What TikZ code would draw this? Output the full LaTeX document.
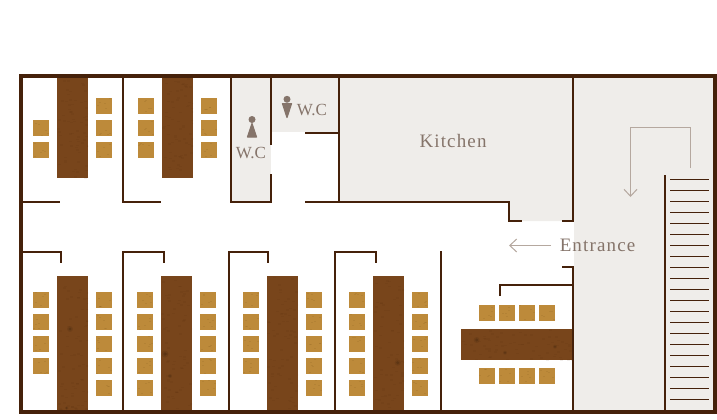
\documentclass[tikz,border=0pt]{standalone}
\usepackage{fontspec}
\setmainfont{Liberation Serif}
\newfontfamily\labelfont[LetterSpace=6]{Liberation Serif}
\usetikzlibrary{arrows.meta}
\definecolor{wallc}{HTML}{45210A}
\definecolor{floorc}{HTML}{EFEDEA}
\definecolor{woodc}{HTML}{78451B}
\definecolor{woodd}{HTML}{4A2508}
\definecolor{chairc}{HTML}{BD8A3A}
\definecolor{chaird}{HTML}{8F6222}
\definecolor{inkc}{HTML}{85746A}
\definecolor{arrowc}{HTML}{B5A89F}
\tikzset{
  wall/.style={draw=wallc,line width=2.3pt,line cap=butt,miter limit=10},
  outerwall/.style={draw=wallc,line width=4pt},
  tread/.style={draw=wallc,line width=1pt},
  floorarea/.style={fill=floorc,draw=none},
  walkarrow/.style={draw=arrowc,line width=1pt,-{Straight Barb[length=7pt,width=13pt,line width=1pt]}},
  roomlabel/.style={text=inkc,draw=none,inner sep=0pt,anchor=base,font=\labelfont\fontsize{19}{19}\selectfont},
  wclabel/.style={text=inkc,inner sep=0pt,anchor=base,font=\fontsize{17}{17}\selectfont},
  wcicon/.style={fill=inkc,draw=inkc,line width=1.2pt,line join=round},
}
\newcommand{\woodtable}[4]{%
  \fill[woodc] (#1,#2) rectangle (#3,#4);
  \begin{scope}
    \clip (#1,#2) rectangle (#3,#4);
    \pgfmathsetmacro{\tw}{#3-#1}\pgfmathsetmacro{\th}{#4-#2}
    \foreach \i in {1,...,70}{
      \pgfmathsetmacro{\px}{#1+rnd*\tw}\pgfmathsetmacro{\py}{#2+rnd*\th}
      \fill[woodd,opacity=.08] (\px,\py) rectangle ++(3,1.5);
    }
  \end{scope}}
\newcommand{\chairsq}[2]{%
  \fill[chairc] (#1,#2) rectangle ++(16,16);
  \foreach \i in {1,...,5}{
    \pgfmathsetmacro{\px}{#1+rnd*14}\pgfmathsetmacro{\py}{#2+rnd*15}
    \fill[chaird,opacity=.2] (\px,\py) rectangle ++(2,.8);
  }}
\newcommand{\blot}[3]{%
  \fill[black,opacity=.08] (#1,#2) circle (#3);
  \fill[black,opacity=.14] (#1,#2) circle (#3*.55);}
\begin{document}
\begin{tikzpicture}[x=1pt,y=-1pt]
\pgfmathsetseed{4217}
\useasboundingbox (0,0) rectangle (717,420);
% floor areas
\fill[floorarea] (231,78) rectangle (271,202);
\fill[floorarea] (271,78) rectangle (339,132);
\fill[floorarea] (339,78) -- (573,78) -- (573,221) -- (509,221) -- (509,202) -- (339,202) -- cycle;
\fill[floorarea] (574,78) rectangle (713,410);
% tables
\woodtable{57}{78}{88}{178}
\woodtable{162}{78}{193}{178}
\woodtable{57}{276}{88}{410}
\woodtable{161}{276}{192}{410}
\woodtable{267}{276}{298}{410}
\woodtable{373}{276}{404}{410}
\woodtable{461}{329}{572}{360}
\blot{70}{329}{3}
\blot{165}{354}{3.5}
\blot{170}{376}{2}
\blot{66.7}{408}{1.8}
\blot{397.7}{362.7}{3}
\blot{476.7}{340}{3}
\blot{505}{352.7}{2}
\blot{555}{346.7}{2}
% chairs, upper rooms
\foreach \y in {120,142} \chairsq{33}{\y}
\foreach \y in {98,120,142} {\chairsq{96}{\y}\chairsq{138}{\y}\chairsq{201}{\y}}
% chairs, lower rooms
\foreach \y in {292,314,336,358} {\chairsq{33}{\y}\chairsq{243}{\y}}
\foreach \y in {292,314,336,358,380} {\chairsq{96}{\y}\chairsq{137}{\y}\chairsq{200}{\y}\chairsq{306}{\y}\chairsq{349}{\y}\chairsq{412}{\y}}
% chairs, counter room
\foreach \x in {479,499,519,539} {\chairsq{\x}{305}\chairsq{\x}{368}}
% inner walls, upper
\draw[wall] (23,202) -- (60,202);
\draw[wall] (123,78) -- (123,202) -- (161,202);
\draw[wall] (231,78) -- (231,202) -- (271,202) -- (271,174);
\draw[wall] (271,78) -- (271,145);
\draw[wall] (305,133) -- (339,133);
\draw[wall] (339,78) -- (339,202);
\draw[wall] (305,202) -- (509,202) -- (509,221) -- (522,221);
\draw[wall] (562,221) -- (573,221) -- (573,78);
% inner walls, entrance side
\draw[wall] (562,267) -- (573,267) -- (573,410);
\draw[wall] (500,296) -- (500,285) -- (573,285);
% inner walls, lower
\draw[wall] (23,252) -- (61,252) -- (61,263);
\draw[wall] (123,410) -- (123,252) -- (164,252) -- (164,263);
\draw[wall] (229,410) -- (229,252) -- (268,252) -- (268,263);
\draw[wall] (335,410) -- (335,252) -- (376,252) -- (376,263);
\draw[wall] (441,251) -- (441,410);
% stairs
\draw[wall] (665,175) -- (665,410);
\foreach \k in {0,...,20} \draw[tread] (670,179.5+11*\k) -- (709,179.5+11*\k);
% outer wall
\draw[outerwall] (21,76) rectangle (715,412);
% arrows
\coordinate (stairstart) at (690.5,168);
\coordinate (stairend) at (630.5,197);
\draw[walkarrow] (stairstart) |- (630.5,127.5) -- (stairend);
\coordinate (entrystart) at (551,245.5);
\coordinate (entryend) at (509,245.5);
\draw[walkarrow] (entrystart) -- (entryend);
% icons
\fill[inkc] (252,119.5) circle (3.5);
\filldraw[wcicon] (252,123.5) -- (256.5,137) -- (247.5,137) -- cycle;
\fill[inkc] (287,99.3) circle (3.5);
\filldraw[wcicon] (282.5,103.7) -- (291.5,103.7) -- (287,117.5) -- cycle;
% labels
\node[wclabel] (wcone) at (251,158) {W.C};
\node[wclabel] (wctwo) at (312,115.5) {W.C};
\node[roomlabel] (kitchen) at (453,147) {Kitchen};
\node[roomlabel] (entrance) at (597.5,251) {Entrance};
\end{tikzpicture}
\end{document}
